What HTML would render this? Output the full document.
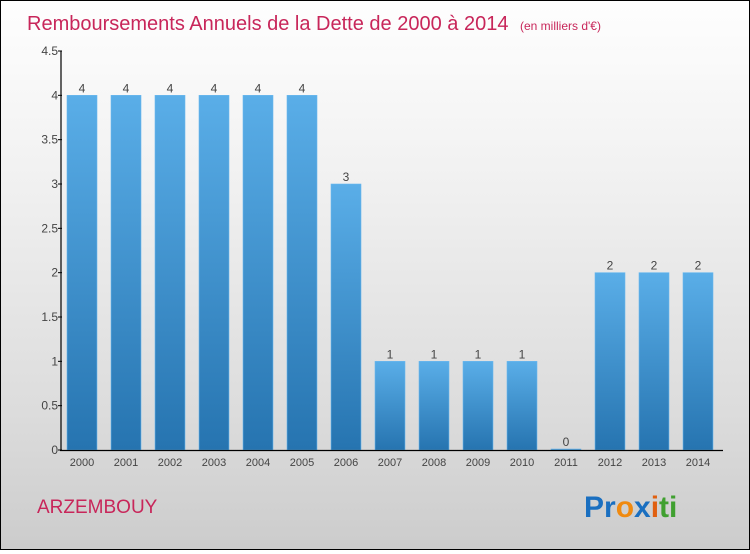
<!DOCTYPE html>
<html><head><meta charset="utf-8"><style>
html,body{margin:0;padding:0;}
body{width:750px;height:550px;overflow:hidden;font-family:"Liberation Sans",sans-serif;}
#wrap{position:absolute;left:0;top:0;width:748px;height:548px;border:1px solid #000;background:linear-gradient(#fefefe,#f2f2f2 30%,#dcdcdc 75%,#cccccc);}
</style></head><body>
<div id="wrap">
<svg id="chart" width="748" height="548">
<defs><linearGradient id="bg" x1="0" y1="0" x2="0" y2="1"><stop offset="0" stop-color="#5aaee8"/><stop offset="1" stop-color="#2674b0"/></linearGradient></defs>
<text x="26" y="29" font-size="20" fill="#c8265a">Remboursements Annuels de la Dette de 2000 à 2014 <tspan font-size="12" dx="6">(en milliers d'€)</tspan></text>
<text x="36" y="512" font-size="19" fill="#c8265a">ARZEMBOUY</text>
<text x="583" y="516" font-size="30" font-weight="bold"><tspan fill="#1a6fc0">Pr</tspan><tspan fill="#f08a10">o</tspan><tspan fill="#1a6fc0">x</tspan><tspan fill="#e06010">i</tspan><tspan fill="#40a030">ti</tspan></text>
<g id="plot"></g>
</svg>
</div>
<script>
const years=["2000","2001","2002","2003","2004","2005","2006","2007","2008","2009","2010","2011","2012","2013","2014"];
const values=[4,4,4,4,4,4,3,1,1,1,1,0,2,2,2];
const yTicks=[0,0.5,1,1.5,2,2.5,3,3.5,4,4.5];
const yTickLabels=["0","0.5","1","1.5","2","2.5","3","3.5","4","4.5"];
const NS="http://www.w3.org/2000/svg";
const g=document.getElementById('plot');
const y0=449,yTop=50,yMax=4.5;
const yS=v=>y0-(v/yMax)*(y0-yTop);
const xS=i=>81+i*44;
function mk(t,a){const e=document.createElementNS(NS,t);for(const k in a)e.setAttribute(k,a[k]);g.appendChild(e);return e;}
years.forEach((yr,i)=>{
  const v=values[i];const top=yS(v);const h=Math.max(y0-top,1);
  const r=mk('rect',{x:xS(i)-15,y:y0-h,width:30,height:h,fill:'url(#bg)',stroke:'#6ab8ee','stroke-width':0.6});
  
  
  const t=mk('text',{x:xS(i),y:y0-h-3,'font-size':12,fill:'#444','text-anchor':'middle'});
  t.textContent=v;
  
  
  const xl=mk('text',{x:xS(i),y:y0+16,'font-size':11,fill:'#444','text-anchor':'middle'});
  xl.textContent=yr;
  
  
});
yTicks.forEach((v,i)=>{
  const y=yS(v);
  const tk=mk('line',{x1:57,x2:61,y1:y,y2:y,stroke:'#000'});
  
  
  const l=mk('text',{x:57,y:y+4,'font-size':12,fill:'#444','text-anchor':'end'});
  l.textContent=yTickLabels[i];
  
  
});
const ya=mk('line',{x1:60,x2:60,y1:yTop,y2:y0+1,stroke:'#000','stroke-width':1.2});


const xa=mk('line',{x1:59,x2:722,y1:y0+0.5,y2:y0+0.5,stroke:'#000','stroke-width':1.2});


</script>
</body></html>
